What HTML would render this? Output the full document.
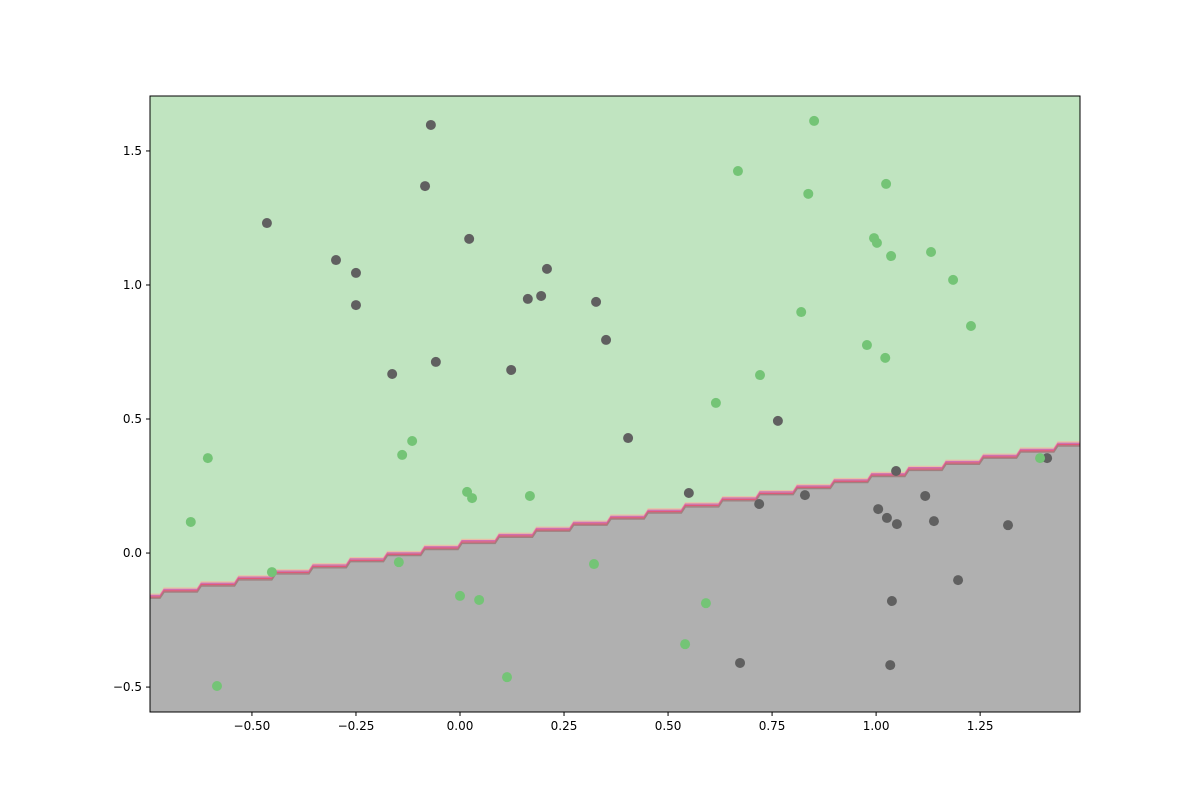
<!DOCTYPE html>
<html><head><meta charset="utf-8"><style>body{margin:0;background:#fff}svg{display:block;font-family:"DejaVu Sans","Liberation Sans",sans-serif}</style></head>
<body>
<svg id="chart" width="1200" height="800" xmlns="http://www.w3.org/2000/svg"></svg>
<script>
const xTicks=[-0.5,-0.25,0,0.25,0.5,0.75,1.0,1.25];
const xTickLabels=["−0.50","−0.25","0.00","0.25","0.50","0.75","1.00","1.25"];
const yTicks=[-0.5,0,0.5,1.0,1.5];
const yTickLabels=["−0.5","0.0","0.5","1.0","1.5"];
const boundaryIntercept=0.032;
const boundarySlope=0.2537;
const gridStep=0.0895;
const darkX=[-0.070,-0.084,-0.464,0.022,-0.298,-0.250,0.209,0.163,0.195,-0.250,0.327,0.351,-0.163,-0.058,0.123,0.404,0.764,0.550,1.048,0.719,0.829,1.411,1.118,1.005,1.026,1.050,1.139,1.317,1.197,1.038,0.673,1.034];
const darkY=[1.597,1.369,1.231,1.172,1.093,1.045,1.060,0.948,0.959,0.925,0.937,0.795,0.668,0.713,0.683,0.429,0.493,0.224,0.306,0.183,0.216,0.354,0.213,0.164,0.131,0.108,0.119,0.104,-0.101,-0.179,-0.410,-0.418];
const greenX=[0.851,0.668,0.837,1.024,0.995,1.002,1.036,1.132,1.185,0.820,1.228,0.978,1.022,0.721,0.615,-0.115,-0.606,-0.139,-0.647,0.017,0.029,0.168,1.394,-0.452,-0.147,0.322,0.000,0.046,0.591,0.541,-0.584,0.113];
const greenY=[1.612,1.425,1.340,1.377,1.175,1.157,1.108,1.123,1.019,0.899,0.847,0.776,0.728,0.664,0.560,0.418,0.354,0.366,0.116,0.228,0.205,0.213,0.354,-0.071,-0.034,-0.041,-0.160,-0.175,-0.187,-0.340,-0.496,-0.463];

const L=150,R=1080,T=96,B=712,xMin=-0.745,xMax=1.49,yMin=-0.593,yMax=1.705;
const sx=v=>L+(v-xMin)/(xMax-xMin)*(R-L);
const sy=v=>B-(v-yMin)/(yMax-yMin)*(B-T);
const svg=document.getElementById('chart');
const NS='http://www.w3.org/2000/svg';
function mk(tag,attrs,parent){const e=document.createElementNS(NS,tag);for(const k in attrs)e.setAttribute(k,attrs[k]);(parent||svg).appendChild(e);return e;}

const bg=mk('rect',{x:L,y:T,width:R-L,height:B-T,fill:'#c0e4c0'});



// staircase boundary
let pts=[];
const n0=Math.floor((xMin)/gridStep)-1;
for(let i=n0;;i++){
  const x0=i*gridStep,x1=(i+1)*gridStep;
  const yv=boundaryIntercept+boundarySlope*(x0+gridStep/2);
  const a=Math.max(sx(x0),L),b=Math.min(sx(x1),R);
  if(b<=L)continue;
  pts.push([a+2,sy(yv)]);pts.push([b-2,sy(yv)]);
  if(x1>=xMax)break;
}
pts[0][0]=L;pts[pts.length-1][0]=R;
const ptsStr=pts.map(p=>p[0].toFixed(1)+','+p[1].toFixed(1)).join(' ');
const poly=mk('polygon',{points:ptsStr+` ${R},${B} ${L},${B}`,fill:'#b0b0b0'});


const cols=[['#e8c0a8',-2],['#d070b0',-0.7],['#e05a78',0.7],['#a08080',2]];
cols.forEach(c=>{
  const l=mk('polyline',{points:pts.map(p=>p[0].toFixed(1)+','+(p[1]+c[1]).toFixed(1)).join(' '),fill:'none',stroke:c[0],'stroke-width':1.4});
  
  
});

darkX.forEach((x,i)=>{
  const c=mk('circle',{cx:sx(x),cy:sy(darkY[i]),r:5,fill:'#606060'});
  
  
});
greenX.forEach((x,i)=>{
  const c=mk('circle',{cx:sx(x),cy:sy(greenY[i]),r:5,fill:'#74c476'});
  
  
});

const frame=mk('rect',{x:L,y:T,width:R-L,height:B-T,fill:'none',stroke:'#000','stroke-width':1});



xTicks.forEach((v,i)=>{
  const x=sx(v);
  const t=mk('line',{x1:x,x2:x,y1:B,y2:B+4,stroke:'#000'});
  
  
  const lb=mk('text',{x:x,y:B+18,'text-anchor':'middle','font-size':12});
  lb.textContent=xTickLabels[i];
  
  
});
yTicks.forEach((v,i)=>{
  const y=sy(v);
  const t=mk('line',{x1:L-4,x2:L,y1:y,y2:y,stroke:'#000'});
  
  
  const lb=mk('text',{x:L-8,y:y+4,'text-anchor':'end','font-size':12});
  lb.textContent=yTickLabels[i];
  
  
});
</script>
</body></html>
